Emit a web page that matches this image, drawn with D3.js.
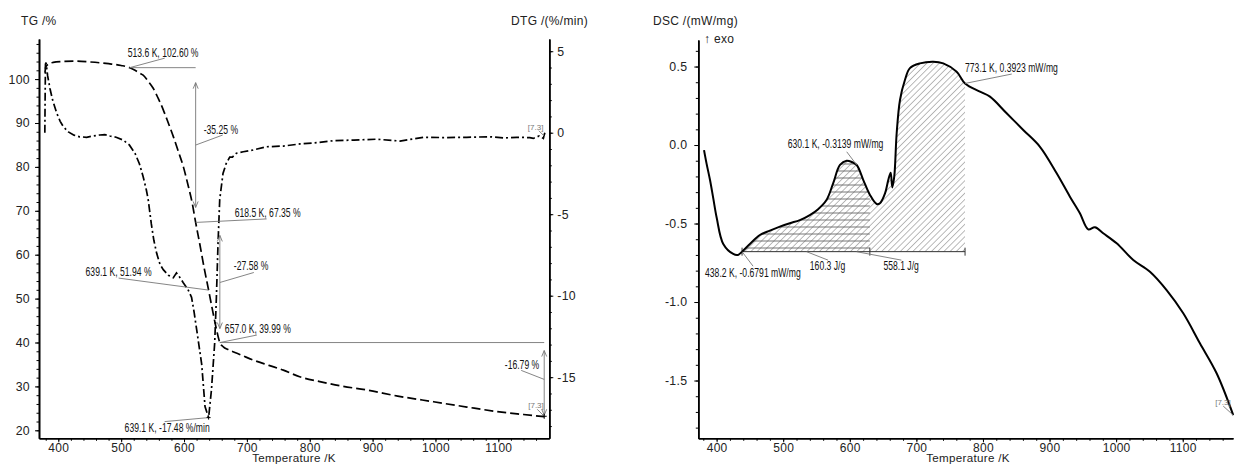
<!DOCTYPE html>
<html><head><meta charset="utf-8">
<script src="https://cdn.jsdelivr.net/npm/d3@7"></script>
<style>
body{margin:0;background:#fff;}
svg{display:block;}
.tick text{font-family:"Liberation Sans",Arial,sans-serif;font-size:12.3px;fill:#222;letter-spacing:0.3px}
.xax .tick text{font-size:12px}
.title{font-family:"Liberation Sans",Arial,sans-serif;font-size:12px;fill:#222;letter-spacing:0.3px}
.xt{font-size:11.6px}
.ann{font-family:"Liberation Sans",Arial,sans-serif;font-size:12.3px;fill:#111}
.small{font-family:"Liberation Sans",Arial,sans-serif;font-size:8px;fill:#777}
.lead{stroke:#777;stroke-width:0.9;fill:none}
</style></head><body>
<svg id="c" width="1234" height="465"></svg>
<script>
// ---------------- DATA ----------------
const tgTemp = [378.8,380,384,392,405,425,450,480,500,513.6,522,530,535,543,551,559,567,575,583,591,599,607,613,618.5,625,632,639.1,645,651,657,662.5,670,678,690,710,735,758,784,816,850,890,940,997,1050,1102,1140,1173];
const tgVal  = [101.5,102.8,103.4,103.8,104.0,104.1,103.9,103.5,103.1,102.6,102.0,101.3,100.9,99.5,97.9,95.6,93.0,90.0,86.9,83.5,80.0,75.5,71.8,67.35,62.5,57.0,51.94,47.6,43.4,39.99,39.0,38.4,37.9,37.2,36.0,34.8,33.7,32.2,31.1,30.1,29.2,27.8,26.5,25.3,24.2,23.6,23.1];

const dtgTemp = [378.6,379.0,379.6,380.5,383,386.8,391,397.5,403,408,416,425,434,445,455,466,474,482,492,503,513,522,529,535,540,543,548,552,556.5,562,567,575,583,588,592,598.8,606,612,616,620.2,628.1,633.4,639.1,643.6,648.8,651.5,654.1,656.8,662,667,672.7,677,683.3,694.3,710,731.5,758,784.5,811,837.5,870,906.5,943.6,980.7,1015,1049.7,1086.8,1110,1129.2,1150,1155.7,1165,1171.6,1174];
const dtgVal  = [0.0,2.0,4.2,4.3,3.5,2.7,2.0,1.2,0.7,0.37,0.05,-0.15,-0.25,-0.28,-0.2,-0.14,-0.12,-0.2,-0.28,-0.45,-0.75,-1.26,-1.9,-2.7,-3.5,-4.1,-5.6,-6.6,-7.4,-8.1,-8.4,-8.75,-8.9,-8.6,-8.8,-9.2,-9.6,-10.1,-11.0,-12.1,-14.2,-16.8,-17.48,-15.8,-12.9,-10.1,-6.8,-4.1,-2.5,-1.9,-1.5,-1.5,-1.26,-1.17,-1.06,-0.86,-0.82,-0.69,-0.61,-0.49,-0.45,-0.4,-0.51,-0.28,-0.3,-0.28,-0.25,-0.32,-0.28,-0.3,-0.35,-0.2,-0.35,0.0];

const dscTemp = [381.1,385,390.1,395,400.2,410,425,432,438.2,450,465,480,495,510,525,540,552,565,575,585.3,595.3,603,610.4,620.3,630.3,640.4,645.3,652.9,657.8,661.4,663.8,666.8,670.4,675.4,682.8,690.3,705.3,725.4,740.4,760.5,773.1,795.5,810.5,835.6,860.5,885.6,910.7,930.6,945.6,958.1,968.2,980.6,1000.8,1025.7,1050.8,1075.8,1100.8,1125.8,1150.9,1175.8];
const dscVal  = [-0.032,-0.12,-0.223,-0.34,-0.465,-0.63,-0.694,-0.70,-0.6791,-0.63,-0.573,-0.545,-0.52,-0.498,-0.478,-0.446,-0.41,-0.35,-0.244,-0.127,-0.1,-0.108,-0.127,-0.223,-0.318,-0.376,-0.371,-0.308,-0.223,-0.176,-0.27,-0.2,0.075,0.287,0.414,0.49,0.52,0.531,0.52,0.467,0.3923,0.34,0.308,0.202,0.096,-0.011,-0.18,-0.329,-0.435,-0.537,-0.524,-0.562,-0.626,-0.732,-0.807,-0.924,-1.072,-1.263,-1.454,-1.72];

const tempTicks = [400,500,600,700,800,900,1000,1100];
const tgTicks = [20,30,40,50,60,70,80,90,100];
const dtgTicks = [5,0,-5,-10,-15];
const dscTicks = [0.5,0.0,-0.5,-1.0,-1.5];

// annotation values (data units)
const tgSteps = [[513.6,102.60],[618.5,67.35],[639.1,51.94],[657.0,39.99],[1173,23.20]];
const tgStepLabels = ["513.6 K, 102.60 %","618.5 K, 67.35 %","639.1 K, 51.94 %","657.0 K, 39.99 %"];
const massChanges = ["-35.25 %","-27.58 %","-16.79 %"];
const dtgPeak = [639.1,-17.48]; const dtgPeakLabel = "639.1 K, -17.48 %/min";
const dscBase = [438.2,-0.6791]; const dscBaseLabel = "438.2 K, -0.6791 mW/mg";
const dscPeak1 = [610.4,-0.127]; const dscPeak1Label = "630.1 K, -0.3139 mW/mg";
const dscPeak2 = [773.1,0.3923]; const dscPeak2Label = "773.1 K, 0.3923 mW/mg";
const dscPartEnd = 630.1;
const areaLabels = ["160.3 J/g","558.1 J/g"]; const areaLeadTemps = [535,610];

// ---------------- SCALES ----------------
const svg = d3.select("#c");
const xL = d3.scaleLinear().domain([369.3,1181.1]).range([39,549.3]);
const yTG = d3.scaleLinear().domain([18.18,109.13]).range([438.3,39]);
const yDTG = d3.scaleLinear().domain([-18.75,5.75]).range([438.3,39]);
const xR = d3.scaleLinear().domain([372.5,1175.5]).range([698.3,1233]);
const yDSC = d3.scaleLinear().domain([-1.868,0.669]).range([438.3,40]);

const defs = svg.append("defs");
defs.append("pattern").attr("id","diag").attr("patternUnits","userSpaceOnUse")
  .attr("width",4.4).attr("height",4.4).attr("patternTransform","rotate(45)")
  .append("line").attr("x1",0).attr("y1",0).attr("x2",0).attr("y2",4.4)
  .attr("stroke","#666").attr("stroke-width",0.9);
defs.append("pattern").attr("id","horiz").attr("patternUnits","userSpaceOnUse")
  .attr("width",8).attr("height",7)
  .append("line").attr("x1",0).attr("y1",3).attr("x2",8).attr("y2",3)
  .attr("stroke","#666").attr("stroke-width",0.9);

// ---------------- AXES ----------------
function styleAxis(g){
  g.select(".domain").attr("stroke","#000").attr("stroke-width",1.6);
  g.selectAll(".tick line").attr("stroke","#000").attr("stroke-width",1);
}
function drawAxis(gen, scale, tr, major, minor, fmt, pad, cls){
  const gm = svg.append("g").attr("transform",tr)
    .call(gen(scale).tickValues(minor).tickSize(2.5).tickSizeOuter(0).tickFormat(""));
  styleAxis(gm);
  const g = svg.append("g").attr("transform",tr).attr("class",cls||null)
    .call(gen(scale).tickValues(major).tickSize(4).tickSizeOuter(0).tickPadding(pad).tickFormat(fmt));
  styleAxis(g);
  g.selectAll(".tick text").attr("font-family",null).attr("font-size",null).attr("fill",null);
  g.attr("font-family",null).attr("font-size",null);
  return g;
}
const minorTemp = d3.range(380,1180,20);
drawAxis(d3.axisLeft, yTG, "translate(39,0)", tgTicks, d3.range(20,110,2), d=>String(d), 5);
drawAxis(d3.axisBottom, xL, "translate(0,438.3)", tempTicks, minorTemp.filter(t=>t<=1180), d=>String(d), 1, "xax");
drawAxis(d3.axisRight, yDTG, "translate(549.3,0)", dtgTicks, d3.range(-18,6,1), d=>String(d), 4);
drawAxis(d3.axisLeft, yDSC, "translate(698.3,0)", dscTicks, d3.range(-18,7,1).map(v=>v/10), d=>d.toFixed(1), 7);
drawAxis(d3.axisBottom, xR, "translate(0,438.3)", tempTicks, minorTemp.filter(t=>t<=1175), d=>String(d), 1, "xax");

// titles
svg.append("text").attr("class","title").attr("x",21).attr("y",25).text("TG /%");
svg.append("text").attr("class","title").attr("x",588).attr("y",25).attr("text-anchor","end").text("DTG /(%/min)");
svg.append("text").attr("class","title xt").attr("x",294).attr("y",462).attr("text-anchor","middle").text("Temperature /K");
svg.append("text").attr("class","title").attr("x",653).attr("y",25).text("DSC /(mW/mg)");
svg.append("text").attr("class","title").attr("x",704).attr("y",43).text("\u2191 exo");
svg.append("text").attr("class","title xt").attr("x",968).attr("y",462).attr("text-anchor","middle").text("Temperature /K");

// ---------------- DSC HATCH ----------------
const dscData = dscTemp.map((t,i)=>[t,dscVal[i]]);
const baseY = yDSC(dscBase[1]);
const areaGen = d3.area().x(d=>xR(d[0])).y0(baseY).y1(d=>yDSC(d[1])).curve(d3.curveCatmullRom);
defs.append("clipPath").attr("id","clipAll").append("rect")
  .attr("x",xR(dscBase[0])).attr("y",0).attr("width",xR(dscPeak2[0])-xR(dscBase[0])).attr("height",465);
defs.append("clipPath").attr("id","clipPart").append("rect")
  .attr("x",xR(dscBase[0])).attr("y",0).attr("width",xR(dscPartEnd)-xR(dscBase[0])).attr("height",465);
svg.append("path").datum(dscData).attr("d",areaGen).attr("fill","url(#diag)").attr("clip-path","url(#clipAll)");
svg.append("path").datum(dscData).attr("d",areaGen).attr("fill","url(#horiz)").attr("clip-path","url(#clipPart)");
svg.append("line").attr("x1",xR(dscBase[0])).attr("x2",xR(dscPeak2[0])).attr("y1",baseY).attr("y2",baseY)
  .attr("stroke","#333").attr("stroke-width",1);
[dscBase[0],dscPartEnd,dscPeak2[0]].forEach(t=>{
  svg.append("line").attr("x1",xR(t)).attr("x2",xR(t)).attr("y1",baseY-4).attr("y2",baseY+4).attr("stroke","#333").attr("stroke-width",1);
});

// ---------------- CURVES ----------------
const tgData = tgTemp.map((t,i)=>[t,tgVal[i]]);
const dtgData = dtgTemp.map((t,i)=>[t,dtgVal[i]]);
svg.append("path").datum(tgData)
  .attr("d",d3.line().x(d=>xL(d[0])).y(d=>yTG(d[1])).curve(d3.curveMonotoneX))
  .attr("fill","none").attr("stroke","#000").attr("stroke-width",1.7).attr("stroke-dasharray","9,4");
svg.append("path").datum(dtgData)
  .attr("d",d3.line().x(d=>xL(d[0])).y(d=>yDTG(d[1])).curve(d3.curveLinear))
  .attr("fill","none").attr("stroke","#000").attr("stroke-width",1.7).attr("stroke-dasharray","8,3,2,3");
svg.append("path").datum(dscData)
  .attr("d",d3.line().x(d=>xR(d[0])).y(d=>yDSC(d[1])).curve(d3.curveCatmullRom))
  .attr("fill","none").attr("stroke","#000").attr("stroke-width",2);

// ---------------- ANNOTATIONS ----------------
function lead(x1,y1,x2,y2){svg.append("line").attr("class","lead").attr("x1",x1).attr("y1",y1).attr("x2",x2).attr("y2",y2);}
function label(x,y,t,anchor,cls){
  const g = svg.append("g").attr("transform",`translate(${x},${y}) scale(${cls?1:0.7},1)`);
  g.append("text").attr("class",cls||"ann").attr("x",0).attr("y",0).attr("text-anchor",anchor||"start").text(t);
}
function arrowV(x,y1,y2){
  lead(x,y1,x,y2);
  const s = y2>y1?1:-1;
  svg.append("path").attr("class","lead").attr("d",`M${x-2.5},${y1+s*6}L${x},${y1}L${x+2.5},${y1+s*6}`);
  svg.append("path").attr("class","lead").attr("d",`M${x-2.5},${y2-s*6}L${x},${y2}L${x+2.5},${y2-s*6}`);
}
const P = tgSteps.map(d=>[xL(d[0]), yTG(d[1])]);
// step 1
lead(P[0][0],P[0][1],P[1][0],P[0][1]);
lead(P[0][0],P[0][1],P[0][0]+35,P[0][1]-9.5);
label(P[0][0]-2,P[0][1]-10.7,tgStepLabels[0]);
arrowV(P[1][0],P[0][1]+15,P[1][1]-15);
{const m=(P[0][1]+P[1][1])/2; lead(P[1][0],m,P[1][0]+27,m-10); label(P[1][0]+8,m-11,massChanges[0]);}
lead(P[1][0],P[1][1],P[1][0]+71,P[1][1]-3.5);
label(P[1][0]+39,P[1][1]-5,tgStepLabels[1]);
// step 2
arrowV(P[3][0],P[1][1]+13,P[3][1]-14);
{const m=(P[1][1]+P[3][1])/2; lead(P[3][0],m,P[3][0]+34,m-10); label(P[3][0]+14,m-12,massChanges[1]);}
lead(P[2][0],P[2][1],P[2][0]-90,P[2][1]-12);
label(P[2][0]-57,P[2][1]-13.6,tgStepLabels[2],"end");
lead(P[3][0],P[3][1],P[3][0]+37,P[3][1]-7.5);
label(P[3][0]+5,P[3][1]-9.5,tgStepLabels[3]);
lead(P[3][0],P[3][1],P[4][0],P[3][1]);
// step 3
arrowV(P[4][0],P[3][1]+8,P[4][1]-1);
{const m=(P[3][1]+P[4][1])/2; lead(P[4][0],m,P[4][0]-23,m-9); label(P[4][0]-5,m-10,massChanges[2],"end");}
// DTG peak
{const x=xL(dtgPeak[0]), y=yDTG(dtgPeak[1]);
 lead(x,y,x-44,y+4); label(x-84,y+14.5,dtgPeakLabel);
 svg.append("path").attr("d",`M${x-2},${y}H${x+2}M${x},${y-2}V${y+2}`).attr("stroke","#000");}
// [7.3] markers
{const x=xL(dtgTemp[dtgTemp.length-1]), y=yDTG(dtgVal[dtgVal.length-1]);
 lead(x-6,y-2,x,y+4); label(x-17,y-3,"[7.3]","start","small");}
{const x=P[4][0], y=P[4][1];
 lead(x-7,y-7,x,y); label(x-16,y-8,"[7.3]","start","small");
 svg.append("path").attr("d",`M${x-2.5},${y}H${x+2.5}M${x},${y-2.5}V${y+2.5}`).attr("stroke","#000");}

// DSC annotations
{const x=xR(dscBase[0]), y=baseY; lead(x,y,x+11,y+14.5); label(x-37,y+25,dscBaseLabel);}
areaLabels.forEach((t,i)=>{
  const x=xR(areaLeadTemps[i]), y=baseY;
  const dx = i===0?21.6:45, tx = i===0?3.3:27;
  lead(x,y,x+dx,y+8.5); label(x+tx,y+18,t);
});
{const x=xR(dscPeak1[0]), y=yDSC(dscPeak1[1]); lead(x,y,x-10,y-13.2); label(x-69,y-17,dscPeak1Label);}
{const x=xR(dscPeak2[0]), y=yDSC(dscPeak2[1]); lead(x,y,x+46.7,y-9.4); label(x,y-11,dscPeak2Label);}
{const x=xR(dscTemp[dscTemp.length-1]), y=yDSC(dscVal[dscVal.length-1]);
 lead(x-10,y-9,x,y); label(x-18,y-10,"[7.3]","start","small");}
</script>
</body></html>
